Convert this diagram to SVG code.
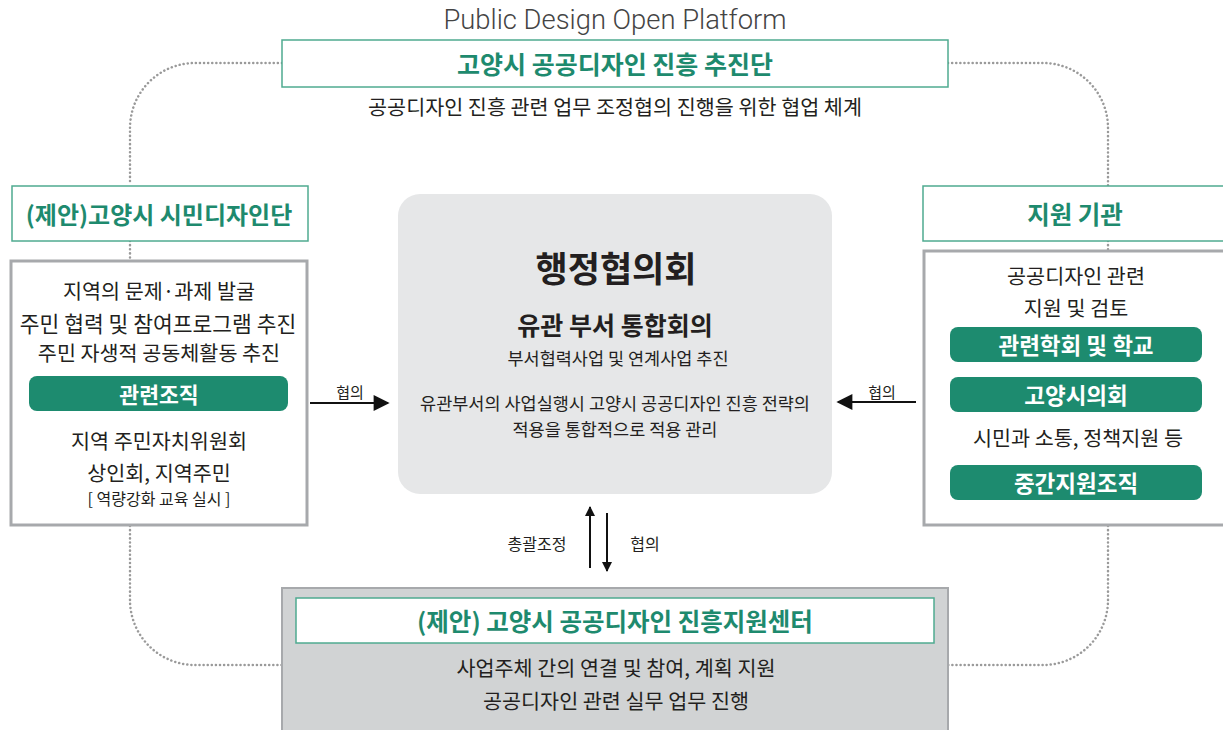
<svg xmlns="http://www.w3.org/2000/svg" width="1223" height="730" viewBox="0 0 1223 730">
<defs>
<marker id="ah" viewBox="0 0 10 10" refX="9" refY="5" markerWidth="10" markerHeight="10" markerUnits="userSpaceOnUse" orient="auto"><path d="M0,0 L10,5 L0,10 z" fill="#111"/></marker>
<marker id="ahb" viewBox="0 0 10 10" refX="9" refY="5" markerWidth="22" markerHeight="16" markerUnits="userSpaceOnUse" orient="auto"><path d="M0,0 L10,5 L0,10 z" fill="#111"/></marker>
<style>
text{font-family:"Noto Sans CJK KR","Noto Sans",sans-serif;fill:#231f20;text-anchor:middle;dominant-baseline:central}
.g{fill:#1e8a6e;font-weight:700}
.w{fill:#fff;font-weight:700}
.hb{fill:#fff;stroke:#4fab90;stroke-width:1.5}
.pill{fill:#1d8b6f}
.body{fill:#fff;stroke:#a7a9ac;stroke-width:3}
.dot{fill:none;stroke:#9a9a9a;stroke-width:2.5;stroke-dasharray:0.1 4;stroke-linecap:round}
.ln{stroke:#111;stroke-width:2;fill:none}
.t{font-size:20.7px}
</style>
</defs>
<rect width="1223" height="730" fill="#fff"/>
<g id="connectors">
<path class="dot" d="M282,63 H195 A65,65 0 0 0 130,128 V185"/>
<path class="dot" d="M130,241 V260"/>
<path class="dot" d="M130,526 V600 A65,65 0 0 0 195,665 H282"/>
<path class="dot" d="M948,63 H1043 A65,65 0 0 1 1108,128 V186"/>
<path class="dot" d="M1108,241 V251"/>
<path class="dot" d="M1108,526 V600 A65,65 0 0 1 1043,665 H948"/>
<line class="ln" x1="310" y1="403" x2="388" y2="403" marker-end="url(#ahb)"/>
<line class="ln" x1="916" y1="402" x2="838" y2="402" marker-end="url(#ahb)"/>
<line class="ln" x1="590" y1="568" x2="590" y2="507" marker-end="url(#ah)"/>
<line class="ln" x1="607" y1="513" x2="607" y2="571" marker-end="url(#ah)"/>
<text x="350" y="391" style="font-size:15px">협의</text>
<text x="882" y="391" style="font-size:15px">협의</text>
<text x="537" y="543" style="font-size:16px">총괄조정</text>
<text x="645" y="543" style="font-size:16px">협의</text>
</g>
<g id="title">
<text x="615" y="20" style="font-family:Roboto,'Liberation Sans',sans-serif;font-weight:300;font-size:27px;fill:#444" textLength="343" lengthAdjust="spacingAndGlyphs">Public Design Open Platform</text>
</g>
<g id="top-node">
<rect class="hb" x="282" y="40" width="666" height="47"/>
<text class="g" x="615" y="63" style="font-size:25px">고양시 공공디자인 진흥 추진단</text>
<text x="615" y="106" style="font-size:20.7px">공공디자인 진흥 관련 업무 조정협의 진행을 위한 협업 체계</text>
</g>
<g id="left-node">
<rect class="hb" x="12" y="186" width="296" height="55"/>
<text class="g" x="159" y="213" style="font-size:24px">(제안)고양시 시민디자인단</text>
<rect class="body" x="11" y="261" width="296" height="264"/>
<text class="t" x="159" y="290">지역의 문제·과제 발굴</text>
<text x="158" y="322" style="font-size:21.5px">주민 협력 및 참여프로그램 추진</text>
<text class="t" x="159" y="352">주민 자생적 공동체활동 추진</text>
<rect class="pill" x="29" y="376" width="259" height="35" rx="8"/>
<text class="w" x="159" y="393" style="font-size:21.6px">관련조직</text>
<text class="t" x="159" y="440">지역 주민자치위원회</text>
<text class="t" x="159" y="472">상인회, 지역주민</text>
<text x="159" y="498" style="font-size:16px">[ 역량강화 교육 실시 ]</text>
</g>
<g id="right-node">
<rect class="hb" x="923" y="186" width="310" height="55"/>
<text class="g" x="1075" y="213" style="font-size:24.5px">지원 기관</text>
<rect class="body" x="924" y="251" width="310" height="274"/>
<text class="t" x="1076" y="275">공공디자인 관련</text>
<text class="t" x="1076" y="307">지원 및 검토</text>
<rect class="pill" x="950" y="327" width="252" height="35" rx="8"/>
<text class="w" x="1076" y="344" style="font-size:22.5px">관련학회 및 학교</text>
<rect class="pill" x="950" y="377" width="252" height="35" rx="8"/>
<text class="w" x="1076" y="394" style="font-size:22.5px">고양시의회</text>
<text class="t" x="1078" y="437">시민과 소통, 정책지원 등</text>
<rect class="pill" x="950" y="465" width="252" height="35" rx="8"/>
<text class="w" x="1076" y="482" style="font-size:22.5px">중간지원조직</text>
</g>
<g id="center-node">
<rect x="398" y="194" width="434" height="300" rx="22" fill="#e6e7e8"/>
<text x="616" y="266" style="font-size:35px;font-weight:700">행정협의회</text>
<text x="615" y="324" style="font-size:25px;font-weight:700">유관 부서 통합회의</text>
<text x="618" y="357" style="font-size:17.5px">부서협력사업 및 연계사업 추진</text>
<text x="615" y="402" style="font-size:17.5px">유관부서의 사업실행시 고양시 공공디자인 진흥 전략의</text>
<text x="615" y="428" style="font-size:17.5px">적용을 통합적으로 적용 관리</text>
</g>
<g id="bottom-node">
<rect x="282" y="588" width="666" height="150" fill="#d1d3d4" stroke="#a7a9ac" stroke-width="2"/>
<rect class="hb" x="296" y="598" width="638" height="45"/>
<text class="g" x="615" y="620" style="font-size:24.5px">(제안) 고양시 공공디자인 진흥지원센터</text>
<text class="t" x="616" y="667">사업주체 간의 연결 및 참여, 계획 지원</text>
<text class="t" x="616" y="700">공공디자인 관련 실무 업무 진행</text>
</g>
</svg>
